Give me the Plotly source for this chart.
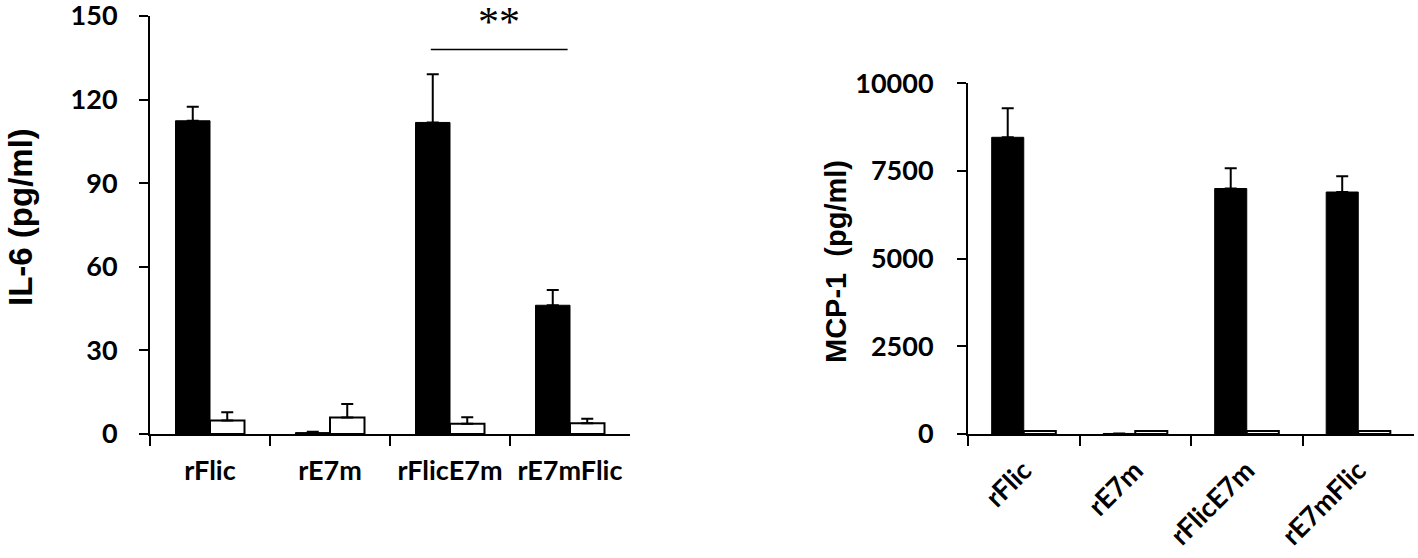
import plotly.graph_objects as go

# ---------------- data ----------------
categories = ["rFlic", "rE7m", "rFlicE7m", "rE7mFlic"]

il6_black = [112.4, 0.5, 111.8, 46.2]
il6_black_err = [5.0, 0.3, 17.3, 5.5]
il6_white = [4.8, 5.9, 3.7, 3.9]
il6_white_err = [3.0, 4.9, 2.3, 1.6]

mcp1_black = [8460, 15, 7000, 6900]
mcp1_black_err = [830, 0, 580, 450]
mcp1_white = [85, 85, 85, 85]

il6_ticks = [0, 30, 60, 90, 120, 150]
mcp1_ticks = [0, 2500, 5000, 7500, 10000]

sig_label = "**"
sig_from, sig_to = "rFlicE7m", "rE7mFlic"
sig_level = 138

# ---------------- layout helpers ----------------
W, H = 1418, 558

def px_x(a, b):
    return [a / W, b / W]

def px_y(top, bottom):
    return [(H - bottom) / H, (H - top) / H]

def pg_x(x):
    return x / W

def pg_y(y):
    return (H - y) / H

TICK_FONT = dict(family="Lato", size=27, color="black", weight="bold")


def err(arr):
    return dict(type="data", symmetric=False, array=arr, arrayminus=[0] * len(arr),
                color="black", thickness=2, width=6)


fig = go.Figure()

# Left panel: IL-6
fig.add_trace(go.Bar(x=categories, y=il6_black, marker=dict(color="black", line=dict(color="black", width=1)),
                     error_y=err(il6_black_err), xaxis="x", yaxis="y", showlegend=False))
fig.add_trace(go.Bar(x=categories, y=il6_white, marker=dict(color="white", line=dict(color="black", width=2)),
                     error_y=err(il6_white_err), xaxis="x", yaxis="y", showlegend=False))

# Right panel: MCP-1
fig.add_trace(go.Bar(x=categories, y=mcp1_black, marker=dict(color="black", line=dict(color="black", width=1)),
                     error_y=err(mcp1_black_err), xaxis="x2", yaxis="y2", showlegend=False))
fig.add_trace(go.Bar(x=categories, y=mcp1_white, marker=dict(color="white", line=dict(color="black", width=2)),
                     xaxis="x2", yaxis="y2", showlegend=False))

axis_common = dict(showline=True, linecolor="black", linewidth=2, ticks="outside",
                   tickcolor="black", tickwidth=2, showgrid=False, zeroline=False,
                   tickfont=TICK_FONT, automargin=False, ticklabeloverflow="allow")

fig.update_layout(
    width=W, height=H,
    margin=dict(l=0, r=0, t=0, b=0),
    paper_bgcolor="white", plot_bgcolor="white",
    barmode="group", bargap=0.425, bargroupgap=0,
    xaxis=dict(domain=px_x(150, 630), anchor="y", tickson="boundaries", ticklen=10,
               ticklabelstandoff=12, **axis_common),
    yaxis=dict(domain=px_y(16, 434), anchor="x", range=[0, 150], tickvals=il6_ticks,
               ticktext=[str(v) for v in il6_ticks],
               ticklen=9, ticklabelstandoff=16, **axis_common),
    xaxis2=dict(domain=px_x(968, 1414), anchor="y2", tickson="boundaries", ticklen=10,
                tickangle=-45, ticklabelstandoff=8, **axis_common),
    yaxis2=dict(domain=px_y(83.3, 434), anchor="x2", range=[0, 10000], tickvals=mcp1_ticks,
                ticktext=[str(v) for v in mcp1_ticks],
                ticklen=9, ticklabelstandoff=18, **axis_common),
)

# axis titles
fig.add_annotation(text="IL-6 (pg/ml)", textangle=-90, xref="paper", yref="paper",
                   x=pg_x(21), y=pg_y(217), showarrow=False,
                   font=dict(family="Liberation Sans", size=33, color="black", weight="bold"),
                   xanchor="center", yanchor="middle")
fig.add_annotation(text="MCP-1  (pg/ml)", textangle=-90, xref="paper", yref="paper",
                   x=pg_x(836), y=pg_y(262), showarrow=False,
                   font=dict(family="Liberation Sans", size=29, color="black", weight="bold"),
                   xanchor="center", yanchor="middle")

# significance bracket
i0 = categories.index(sig_from)
i1 = categories.index(sig_to)
x0 = i0 - 0.16
x1 = i1 - 0.02
fig.add_shape(type="line", xref="x", yref="y", x0=x0, x1=x1, y0=sig_level, y1=sig_level,
              line=dict(color="black", width=1.5))
fig.add_annotation(text=sig_label, xref="x", yref="y", x=(x0 + x1) / 2, y=sig_level,
                   yanchor="bottom", yshift=2, showarrow=False,
                   font=dict(family="Liberation Serif", size=42, color="black"))

fig.write_html("out.html", config={"displayModeBar": False},
               post_script="document.body.style.margin='0';document.body.style.overflow='hidden';")
